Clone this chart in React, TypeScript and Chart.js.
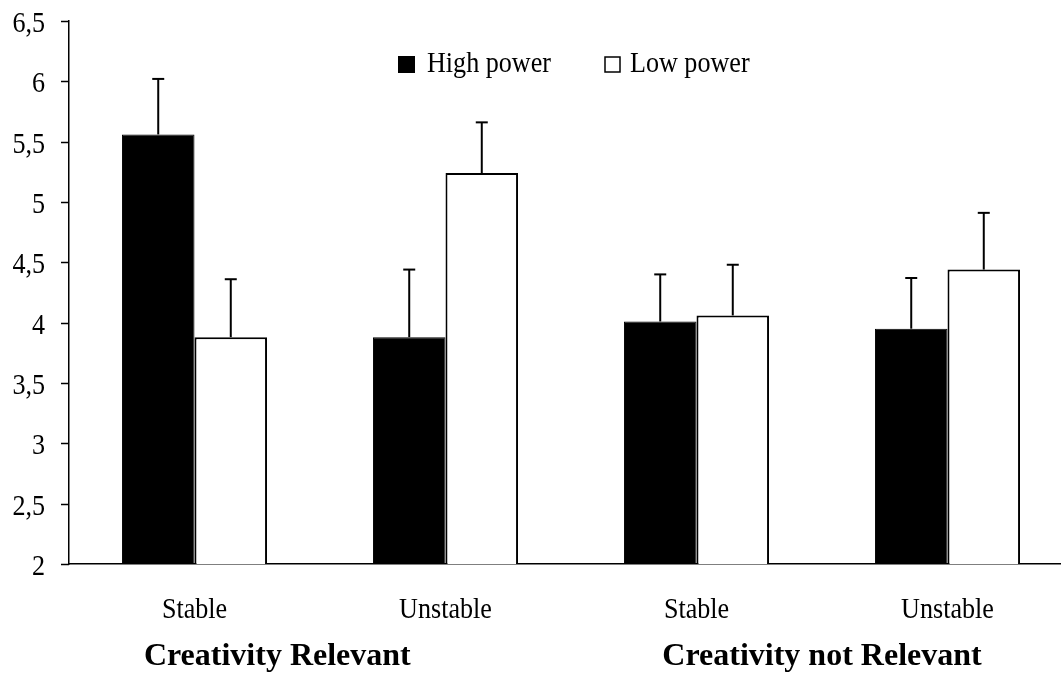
import React, { useEffect, useRef } from "react";
import { Chart, registerables } from "chart.js";

Chart.register(...registerables);

const categories = ["Stable", "Unstable", "Stable", "Unstable"];
const groupTitles = ["Creativity Relevant", "Creativity not Relevant"];
const seriesNames = ["High power", "Low power"];
const highPower = [5.56, 3.88, 4.01, 3.95];
const highPowerUpper = [6.02, 4.44, 4.4, 4.37];
const lowPower = [3.88, 5.24, 4.06, 4.44];
const lowPowerUpper = [4.36, 5.66, 4.48, 4.91];
const yTicks = [2, 2.5, 3, 3.5, 4, 4.5, 5, 5.5, 6, 6.5];

const FONT = '"Liberation Serif", "Times New Roman", serif';

export default function App() {
  const ref = useRef<HTMLCanvasElement | null>(null);

  useEffect(() => {
    if (!ref.current) return;
    const uppers = [highPowerUpper, lowPowerUpper];

    const drawScaledText = (
      ctx: CanvasRenderingContext2D,
      text: string,
      x: number,
      y: number,
      align: "left" | "center" | "right",
      font: string,
      sx: number,
      baseline: CanvasTextBaseline = "alphabetic"
    ) => {
      ctx.save();
      ctx.font = font;
      ctx.fillStyle = "#000";
      ctx.textBaseline = baseline;
      ctx.textAlign = "left";
      const w = ctx.measureText(text).width * sx;
      const left = align === "center" ? x - w / 2 : align === "right" ? x - w : x;
      ctx.translate(left, y);
      ctx.scale(sx, 1);
      ctx.fillText(text, 0, 0);
      ctx.restore();
    };

    const overlay = {
      id: "overlay",
      afterDatasetsDraw(chart: any) {
        const ctx = chart.ctx as CanvasRenderingContext2D;
        const ys = chart.scales.y;
        chart.data.datasets.forEach((_: any, di: number) => {
          const meta = chart.getDatasetMeta(di);
          meta.data.forEach((el: any, i: number) => {
            const yTop = ys.getPixelForValue(uppers[di][i]);
            ctx.save();
            ctx.strokeStyle = "#000";
            ctx.lineWidth = 2;
            ctx.beginPath();
            ctx.moveTo(el.x, el.y);
            ctx.lineTo(el.x, yTop);
            ctx.stroke();
            ctx.beginPath();
            ctx.moveTo(el.x - 6, yTop);
            ctx.lineTo(el.x + 6, yTop);
            ctx.stroke();
            ctx.restore();
          });
        });
      },
      afterDraw(chart: any) {
        const ctx = chart.ctx as CanvasRenderingContext2D;
        const xs = chart.scales.x;
        const ys = chart.scales.y;
        const left = chart.chartArea.left;
        const p = (i: number) => xs.getPixelForValue(i);
        // y tick marks and labels
        ctx.save();
        ctx.strokeStyle = "#000";
        ctx.lineWidth = 1.5;
        yTicks.forEach((v) => {
          const y = Math.round(ys.getPixelForValue(v)) + 0.5;
          ctx.beginPath();
          ctx.moveTo(left - 8, y);
          ctx.lineTo(left, y);
          ctx.stroke();
        });
        ctx.restore();
        yTicks.forEach((v) => {
          const y = ys.getPixelForValue(v);
          drawScaledText(ctx, String(v).replace(".", ","), left - 24, y + 11, "right", `30px ${FONT}`, 0.87);
        });
        // category labels
        chart.data.labels.forEach((lab: string, i: number) => {
          drawScaledText(ctx, lab, p(i), 618, "center", `30px ${FONT}`, 0.87);
        });
        // group titles
        const g1 = p(0) + (p(1) - p(0)) * 0.33;
        const g2 = (p(2) + p(3)) / 2;
        drawScaledText(ctx, groupTitles[0], g1, 665, "center", `bold 32px ${FONT}`, 1);
        drawScaledText(ctx, groupTitles[1], g2, 665, "center", `bold 32px ${FONT}`, 1);
        // legend
        ctx.save();
        ctx.fillStyle = "#000";
        ctx.fillRect(398, 56, 17, 17);
        ctx.strokeStyle = "#000";
        ctx.lineWidth = 1.5;
        ctx.fillStyle = "#fff";
        ctx.fillRect(605, 57, 15, 15);
        ctx.strokeRect(605, 57, 15, 15);
        ctx.restore();
        drawScaledText(ctx, seriesNames[0], 427, 72, "left", `30px ${FONT}`, 0.87);
        drawScaledText(ctx, seriesNames[1], 630, 72, "left", `30px ${FONT}`, 0.87);
      },
    };

    const chart = new Chart(ref.current, {
      type: "bar",
      data: {
        labels: categories,
        datasets: [
          {
            label: seriesNames[0],
            data: highPower,
            backgroundColor: "#000",
            borderColor: "#000",
            borderWidth: 1,
            categoryPercentage: 0.578,
            barPercentage: 1,
          },
          {
            label: seriesNames[1],
            data: lowPower,
            backgroundColor: "#fff",
            borderColor: "#000",
            borderWidth: 2,
            categoryPercentage: 0.578,
            barPercentage: 1,
          },
        ],
      },
      options: {
        responsive: false,
        animation: false,
        devicePixelRatio: 1,
        layout: { padding: { top: 21, left: 0, right: 0, bottom: 0 } },
        plugins: {
          legend: { display: false },
          tooltip: { enabled: false },
          title: { display: false },
        },
        scales: {
          x: {
            type: "category",
            offset: true,
            grid: { display: false, drawTicks: false },
            border: { display: true, color: "#000", width: 1.5 },
            ticks: { display: false },
            afterFit: (s: any) => {
              s.height = 111;
            },
          },
          y: {
            type: "linear",
            min: 2,
            max: 6.5,
            afterBuildTicks: (s: any) => {
              s.ticks = yTicks.map((v) => ({ value: v }));
            },
            grid: { display: false, drawTicks: false },
            border: { display: true, color: "#000", width: 1.5 },
            ticks: { display: false },
            afterFit: (s: any) => {
              s.width = 69;
            },
          },
        },
      },
      plugins: [overlay],
    });
    return () => chart.destroy();
  }, []);

  return (
    <div
      style={{
        position: "fixed",
        left: 0,
        top: 0,
        width: 1061,
        height: 675,
        overflow: "hidden",
        background: "#fff",
      }}
    >
      <canvas ref={ref} width={1073} height={675} style={{ display: "block" }} />
    </div>
  );
}
